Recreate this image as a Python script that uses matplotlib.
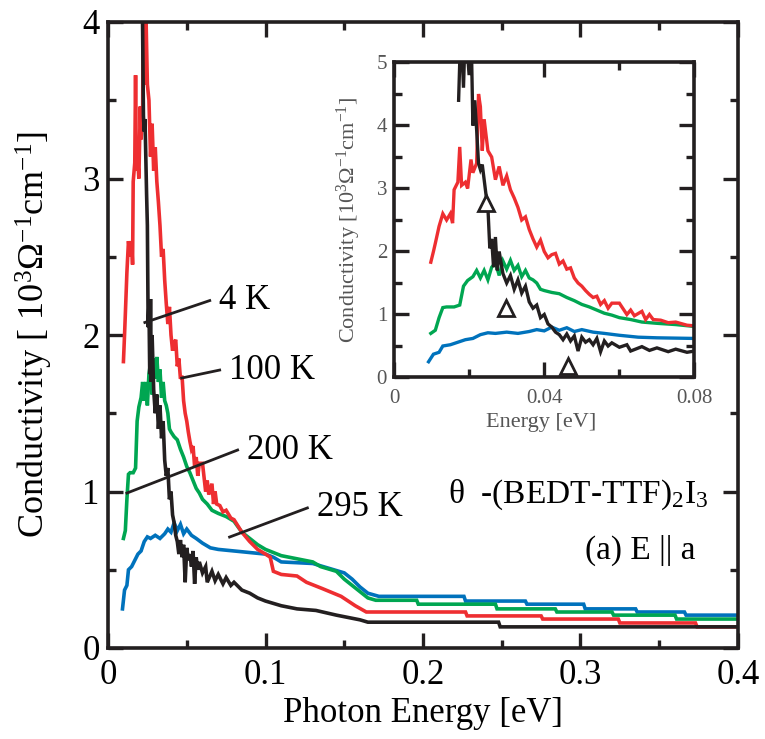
import matplotlib
matplotlib.use("Agg")
import matplotlib.pyplot as plt
import numpy as np

plt.rcParams['font.family'] = ['Liberation Serif', 'DejaVu Serif']
plt.rcParams['mathtext.fontset'] = 'custom'
plt.rcParams['mathtext.rm'] = 'Liberation Serif'
plt.rcParams['mathtext.it'] = 'Liberation Serif:italic'
plt.rcParams['mathtext.bf'] = 'Liberation Serif:bold'

# ---- optical conductivity spectra, E || a (energy in eV, sigma in 10^3 / Ohm cm) ----
e_4K = [0.0172, 0.0178, 0.0185, 0.019, 0.020, 0.0205, 0.021, 0.0215, 0.022, 0.0225,
        0.023, 0.0235, 0.0245, 0.025, 0.0255, 0.026, 0.0265, 0.027, 0.0275, 0.028,
        0.029, 0.030, 0.031, 0.032, 0.033, 0.034, 0.035, 0.036, 0.037, 0.038,
        0.039, 0.040, 0.041, 0.042, 0.043, 0.044, 0.045, 0.046, 0.047, 0.048,
        0.049, 0.050, 0.051, 0.052, 0.053, 0.054, 0.055, 0.056, 0.057, 0.058,
        0.060, 0.062, 0.063, 0.066, 0.068, 0.070, 0.073, 0.075, 0.078, 0.080,
        0.085, 0.090, 0.095, 0.100, 0.110, 0.120, 0.132, 0.145, 0.160,
        0.165, 0.248, 0.249, 0.400]
s_4K = [4.4, 5.6, 4.6, 5.6, 4.8, 5.6, 4.0, 4.4, 3.93, 3.4,
        3.3, 3.38, 2.9, 2.7, 2.05, 2.2, 1.75, 2.23, 1.7, 2.0,
        1.65, 1.5, 1.62, 1.4, 1.55, 1.34, 1.45, 1.2, 1.1, 1.15,
        0.95, 1.0, 0.85, 0.8, 0.72, 0.68, 0.60, 0.69, 0.58, 0.66,
        0.42, 0.64, 0.56, 0.60, 0.52, 0.62, 0.41, 0.58, 0.50, 0.55,
        0.48, 0.52, 0.42, 0.49, 0.43, 0.47, 0.41, 0.45, 0.40, 0.42,
        0.37, 0.35, 0.32, 0.30, 0.27, 0.25, 0.24, 0.21, 0.18,
        0.165, 0.165, 0.135, 0.135]

e_100K = [0.0098, 0.0105, 0.011, 0.012, 0.013, 0.014, 0.015, 0.0156, 0.016, 0.017,
          0.0175, 0.018, 0.019, 0.0196, 0.0205, 0.021, 0.022, 0.0225, 0.023, 0.0235,
          0.024, 0.025, 0.026, 0.027, 0.028, 0.029, 0.030, 0.031, 0.032, 0.033,
          0.034, 0.035, 0.036, 0.037, 0.038, 0.039, 0.040, 0.041, 0.042, 0.043,
          0.044, 0.045, 0.046, 0.047, 0.048, 0.049, 0.050, 0.051, 0.052, 0.053,
          0.054, 0.055, 0.056, 0.057, 0.058, 0.060, 0.062, 0.063, 0.064, 0.066,
          0.067, 0.068, 0.069, 0.071, 0.073, 0.075, 0.078, 0.080, 0.085, 0.090,
          0.095, 0.100, 0.103, 0.105, 0.110, 0.120, 0.126, 0.136, 0.148, 0.157,
          0.164, 0.227, 0.228, 0.275, 0.276, 0.324, 0.325, 0.373, 0.374, 0.400]
s_100K = [1.83, 2.0, 2.13, 2.4, 2.6, 2.5, 2.6, 2.45, 2.98, 3.1,
          3.66, 3.05, 3.1, 3.0, 3.46, 3.25, 3.4, 4.5, 4.3, 3.6,
          4.1, 3.6, 3.5, 3.14, 3.35, 3.05, 3.2, 2.98, 2.85, 2.7,
          2.5, 2.55, 2.35, 2.2, 2.07, 2.18, 2.0, 1.9, 1.95, 1.97,
          1.8, 1.85, 1.72, 1.74, 1.58, 1.5, 1.45, 1.38, 1.32, 1.27,
          1.29, 1.16, 1.22, 1.1, 1.18, 1.18, 1.0, 1.07, 0.98, 1.05,
          0.92, 1.0, 0.92, 0.91, 0.87, 0.88, 0.83, 0.82, 0.74, 0.68,
          0.63, 0.60, 0.58, 0.49, 0.47, 0.46, 0.42, 0.38, 0.33, 0.27,
          0.23, 0.23, 0.205, 0.205, 0.185, 0.185, 0.16, 0.16, 0.135, 0.135]

e_200K = [0.0098, 0.011, 0.012, 0.013, 0.014, 0.016, 0.0175, 0.0185, 0.0196, 0.021,
          0.022, 0.023, 0.024, 0.025, 0.026, 0.027, 0.028, 0.029, 0.030, 0.031,
          0.032, 0.033, 0.034, 0.035, 0.036, 0.037, 0.038, 0.039, 0.040, 0.042,
          0.044, 0.046, 0.048, 0.050, 0.052, 0.054, 0.056, 0.058, 0.060, 0.063,
          0.066, 0.070, 0.075, 0.080, 0.085, 0.090, 0.095, 0.100, 0.105, 0.110,
          0.120, 0.130, 0.135, 0.145, 0.150, 0.155, 0.160, 0.165, 0.170, 0.196,
          0.197, 0.246, 0.247, 0.284, 0.285, 0.320, 0.321, 0.360, 0.361, 0.400]
s_200K = [0.7, 0.75, 0.95, 1.11, 1.12, 1.12, 1.15, 1.45, 1.54, 1.6,
          1.7, 1.58, 1.7, 1.55, 1.75, 1.82, 1.62, 1.85, 1.72, 1.86,
          1.7, 1.78, 1.6, 1.7, 1.58, 1.55, 1.5, 1.4, 1.38, 1.35,
          1.33, 1.27, 1.22, 1.16, 1.12, 1.07, 1.02, 0.99, 0.95, 0.92,
          0.88, 0.86, 0.84, 0.81, 0.74, 0.70, 0.66, 0.63, 0.61, 0.59,
          0.57, 0.55, 0.52, 0.49, 0.44, 0.40, 0.36, 0.32, 0.305, 0.305,
          0.28, 0.28, 0.25, 0.25, 0.23, 0.23, 0.21, 0.21, 0.185, 0.185]

e_295K = [0.0092, 0.0105, 0.012, 0.013, 0.015, 0.017, 0.019, 0.021, 0.023, 0.025,
          0.027, 0.030, 0.033, 0.036, 0.038, 0.040, 0.042, 0.044, 0.046, 0.048,
          0.050, 0.053, 0.056, 0.060, 0.065, 0.070, 0.080, 0.090, 0.100, 0.105,
          0.110, 0.130, 0.140, 0.150, 0.155, 0.160, 0.165, 0.172, 0.226, 0.227,
          0.265, 0.266, 0.302, 0.303, 0.335, 0.336, 0.366, 0.367, 0.400]
s_295K = [0.25, 0.37, 0.4, 0.5, 0.52, 0.56, 0.6, 0.62, 0.68, 0.71,
          0.70, 0.72, 0.70, 0.73, 0.76, 0.74, 0.80, 0.75, 0.79, 0.73,
          0.76, 0.72, 0.70, 0.67, 0.64, 0.63, 0.62, 0.61, 0.60, 0.58,
          0.55, 0.54, 0.51, 0.48, 0.44, 0.39, 0.35, 0.33, 0.33, 0.30,
          0.30, 0.28, 0.28, 0.25, 0.25, 0.23, 0.23, 0.21, 0.21]

# open triangles marking features in the 4 K spectrum (inset)
tri_e = [0.0244, 0.0299, 0.0464]
tri_s = [2.77, 1.10, 0.19]

temp_labels = ["4 K", "100 K", "200 K", "295 K"]

c_black = '#231f20'
c_red = '#ee2e31'
c_green = '#00a651'
c_blue = '#0072bc'

spectra = [(e_295K, s_295K, c_blue), (e_200K, s_200K, c_green),
           (e_100K, s_100K, c_red), (e_4K, s_4K, c_black)]

fig = plt.figure(figsize=(7.65, 7.39), dpi=100)
W, H = 765.0, 739.0

def style_axes(ax, size):
    for sp in ax.spines.values():
        sp.set_linewidth(2.6)
        sp.set_color(c_black)
    ax.tick_params(which='both', direction='in', top=True, right=True,
                   width=2.4, color=c_black, labelsize=size)
    ax.tick_params(which='major', length=11)
    ax.tick_params(which='minor', length=6)

# ---- main panel ----
ax = fig.add_axes([108 / W, 1 - 648 / H, 630 / W, 626 / H])
for e, s, c in spectra:
    ax.plot(e, s, color=c, lw=2.6, solid_joinstyle='miter')
ax.set_xlim(0, 0.4)
ax.set_ylim(0, 4)
ax.set_xticks([0, 0.1, 0.2, 0.3, 0.4])
ax.set_xticklabels(['0', '0.1', '0.2', '0.3', '0.4'])
ax.set_xticks(np.arange(0.05, 0.4, 0.1), minor=True)
ax.set_yticks([0, 1, 2, 3, 4])
ax.set_yticks(np.arange(0.5, 4, 1.0), minor=True)
style_axes(ax, 25)
ax.tick_params(axis='x', which='major', pad=8)
ax.tick_params(axis='y', which='major', pad=6)
ax.set_xlabel('Photon Energy [eV]', fontsize=25)
ax.set_ylabel('Conductivity [ 10$^{3}$Ω$^{-1}$cm$^{-1}$]', fontsize=26)
ax.xaxis.set_label_coords(0.5, -0.078)
ax.yaxis.set_label_coords(-0.084, 0.5)

# temperature labels with leader lines
leaders = [((0.0234, 2.08), (0.0646, 2.22)),
           ((0.0468, 1.725), (0.0709, 1.776)),
           ((0.012, 0.99), (0.0823, 1.265)),
           ((0.0772, 0.709), (0.1266, 0.895))]
for lab, (p0, p1) in zip(temp_labels, leaders):
    ax.plot([p0[0], p1[0]], [p0[1], p1[1]], color=c_black, lw=2.0)
    ax.text(p1[0] + 0.006, p1[1], lab, fontsize=25, ha='left', va='center')

ax.text(0.381, 0.98, 'θ  -(BEDT-TTF)$_{2}$I$_{3}$', fontsize=24,
        ha='right', va='center')
ax.text(0.373, 0.626, '(a) E || a', fontsize=24, ha='right', va='center')

# ---- inset: low-energy region ----
ins = fig.add_axes([394 / W, 1 - 377.5 / H, 300.5 / W, 315 / H])
for e, s, c in spectra:
    ins.plot(e, s, color=c, lw=2.4, solid_joinstyle='miter')
ins.plot(tri_e, tri_s, linestyle='none', marker='^', ms=11, mfc='white',
         mec=c_black, mew=2.0, zorder=5)
ins.set_xlim(0, 0.08)
ins.set_ylim(0, 5)
ins.set_xticks([0, 0.04, 0.08])
ins.set_xticklabels(['0', '0.04', '0.08'])
ins.set_xticks([0.02, 0.06], minor=True)
ins.set_yticks([0, 1, 2, 3, 4, 5])
ins.set_yticks(np.arange(0.5, 5, 1.0), minor=True)
style_axes(ins, 15)
ins.tick_params(labelcolor='#555555')
ins.tick_params(axis='x', which='major', pad=8)
ins.tick_params(axis='y', which='major', pad=5)
ins.set_xlabel('Energy [eV]', fontsize=16, color='#555555')
ins.set_ylabel('Conductivity [10$^{3}$Ω$^{-1}$cm$^{-1}$]', fontsize=16,
               color='#555555')
ins.xaxis.set_label_coords(0.49, -0.113)
ins.yaxis.set_label_coords(-0.103, 0.5)

fig.savefig('out.png', dpi=100)
